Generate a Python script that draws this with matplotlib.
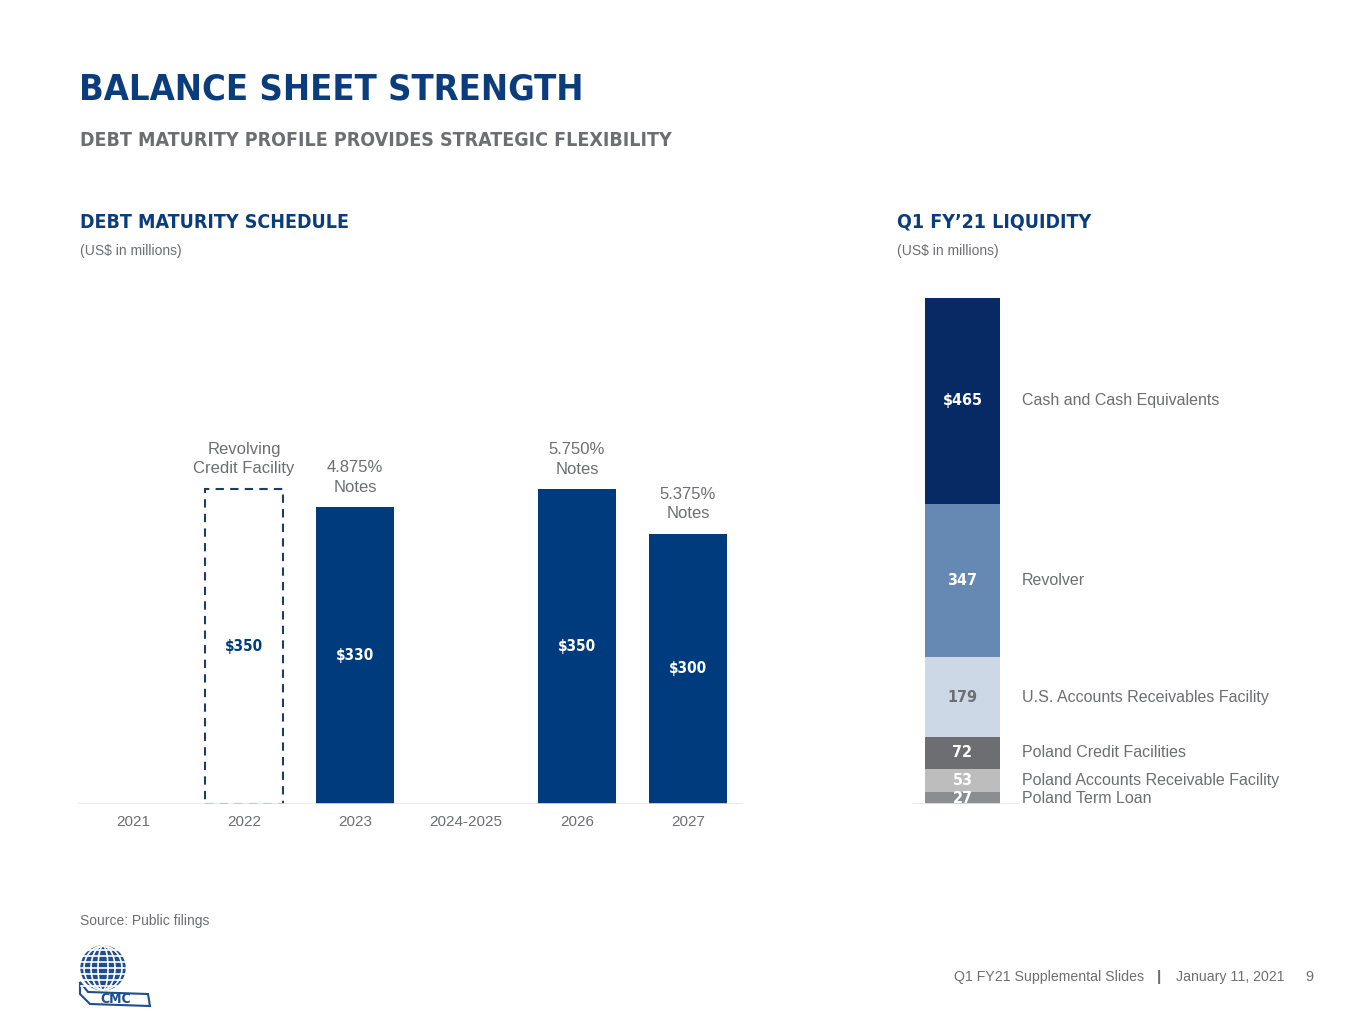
import matplotlib
matplotlib.use('Agg')
import matplotlib.pyplot as plt
from matplotlib.patches import Circle, Ellipse, Polygon
from matplotlib.transforms import blended_transform_factory

# debt maturity schedule (US$ millions)
years = ['2021', '2022', '2023', '2024-2025', '2026', '2027']
debt = [0, 350, 330, 0, 350, 300]
debt_labels = ['', '$350', '$330', '', '$350', '$300']
debt_notes = ['', 'Revolving\nCredit Facility', '4.875%\nNotes', '', '5.750%\nNotes', '5.375%\nNotes']
undrawn = [False, True, False, False, False, False]

# Q1 FY'21 liquidity (US$ millions), bottom to top
liq_names = ['Poland Term Loan', 'Poland Accounts Receivable Facility', 'Poland Credit Facilities',
             'U.S. Accounts Receivables Facility', 'Revolver', 'Cash and Cash Equivalents']
liq_values = [27, 53, 72, 179, 347, 465]
liq_labels = ['27', '53', '72', '179', '347', '$465']
liq_colors = ['#8c8d90', '#bdbdbd', '#6d6e71', '#ccd8e6', '#6589b3', '#072a64']
liq_text = ['white', 'white', 'white', '#6d6e71', 'white', 'white']

NAVY = '#0b3c7c'
BAR = '#003c7d'
GRAY = '#6d6e71'
NARROW = ['DejaVu Sans']
SANS = ['Liberation Sans', 'DejaVu Sans']

W, H = 1365, 1024
fig = plt.figure(figsize=(W / 100, H / 100), dpi=100)


def fx(px):
    return px / W


def fy(py):
    return 1 - py / H


# headings
fig.text(fx(79), fy(89.5), 'BALANCE SHEET STRENGTH', family=NARROW, stretch='condensed',
         weight='bold', size=26, color=NAVY, va='center')
fig.text(fx(80), fy(140.5), 'DEBT MATURITY PROFILE PROVIDES STRATEGIC FLEXIBILITY', family=NARROW,
         stretch='condensed', weight='bold', size=14, color=GRAY, va='center')
fig.text(fx(80), fy(222.5), 'DEBT MATURITY SCHEDULE', family=NARROW, stretch='condensed',
         weight='bold', size=14, color=NAVY, va='center')
fig.text(fx(80), fy(251.5), '(US$ in millions)', family=SANS, size=10, color=GRAY, va='center')
fig.text(fx(897), fy(222.5), 'Q1 FY\u201921 LIQUIDITY', family=NARROW, stretch='condensed',
         weight='bold', size=14, color=NAVY, va='center')
fig.text(fx(897), fy(251.5), '(US$ in millions)', family=SANS, size=10, color=GRAY, va='center')

# left chart: debt maturity
ax = fig.add_axes([fx(77.5), fy(804), fx(666), 360 / H])
x = range(len(years))
for i in x:
    if debt[i] == 0:
        continue
    if undrawn[i]:
        ax.bar(i, debt[i], width=0.71, facecolor='none', edgecolor='#1f3b66',
               linestyle=(0, (4, 3)), linewidth=1.5)
        txt_color = BAR
    else:
        ax.bar(i, debt[i], width=0.71, color=BAR)
        txt_color = 'white'
    ax.text(i, debt[i] / 2, debt_labels[i], ha='center', va='center', family=NARROW,
            stretch='condensed', weight='bold', size=11, color=txt_color)
    ax.annotate(debt_notes[i], (i, debt[i]), xytext=(0, 9), textcoords='offset points',
                ha='center', va='bottom', family=SANS, size=12, color=GRAY,
                linespacing=1.4, annotation_clip=False)
ax.axhline(0, color='#e6e6e6', linewidth=1.2)
ax.set_xlim(-0.5, len(years) - 0.5)
ax.set_ylim(0, 400)
ax.set_xticks(list(x))
ax.set_xticklabels(years, family=SANS, size=11, color=GRAY)
ax.tick_params(axis='x', length=0, pad=8)
ax.set_yticks([])
for s in ax.spines.values():
    s.set_visible(False)

# right chart: liquidity stack
ax2 = fig.add_axes([fx(912), fy(804), fx(106), 506 / H])
bottom = 0
trans = blended_transform_factory(ax2.transAxes, ax2.transData)
for v, lab, name, c, tc in zip(liq_values, liq_labels, liq_names, liq_colors, liq_text):
    ax2.bar(0, v, bottom=bottom, width=0.708, color=c)
    mid = bottom + v / 2
    ax2.text(0, mid, lab, ha='center', va='center', family=NARROW, stretch='condensed',
             weight='bold', size=11.5, color=tc)
    ax2.text(1.038, mid, name, transform=trans, ha='left', va='center', family=SANS,
             size=11.5, color=GRAY, clip_on=False)
    bottom += v
ax2.axhline(0, color='#e6e6e6', linewidth=1.2)
ax2.set_xlim(-0.476, 0.524)
ax2.set_ylim(0, sum(liq_values))
ax2.set_xticks([])
ax2.set_yticks([])
for s in ax2.spines.values():
    s.set_visible(False)

# footer
fig.text(fx(80), fy(921), 'Source: Public filings', family=SANS, size=10, color=GRAY, va='center')
fig.text(fx(1144), fy(977), 'Q1 FY21 Supplemental Slides', family=SANS, size=10.2,
         color=GRAY, va='center', ha='right')
fig.text(fx(1159), fy(977), '|', family=SANS, size=11, weight='bold', color=GRAY,
         va='center', ha='center')
fig.text(fx(1285), fy(977), 'January 11, 2021', family=SANS, size=10.2, color=GRAY,
         va='center', ha='right')
fig.text(fx(1314), fy(977), '9', family=SANS, size=10.5, color=GRAY, va='center', ha='right')

# rough CMC logo
lax = fig.add_axes([fx(78), fy(1008), fx(76), 64 / H])
lax.set_xlim(0, 76)
lax.set_ylim(0, 64)
lax.set_aspect('equal')
lax.axis('off')
lax.add_patch(Circle((25, 40), 22, color='#1f4e8c'))
for yy in range(22, 62, 6):
    lax.plot([3, 47], [yy, yy], color='white', lw=1.2)
for w in (10, 24, 38):
    lax.add_patch(Ellipse((25, 40), w, 44, fill=False, edgecolor='white', lw=1.2))
lax.add_patch(Polygon([[2, 26], [10, 16], [70, 14], [72, 2], [12, 4], [2, 14]],
                      closed=True, facecolor='white', edgecolor='#1f4e8c', lw=1.5))
lax.text(38, 9, 'CMC', ha='center', va='center', family=NARROW, stretch='condensed',
         weight='bold', size=10, color='#1f4e8c')

fig.savefig('out.png', dpi=100)
